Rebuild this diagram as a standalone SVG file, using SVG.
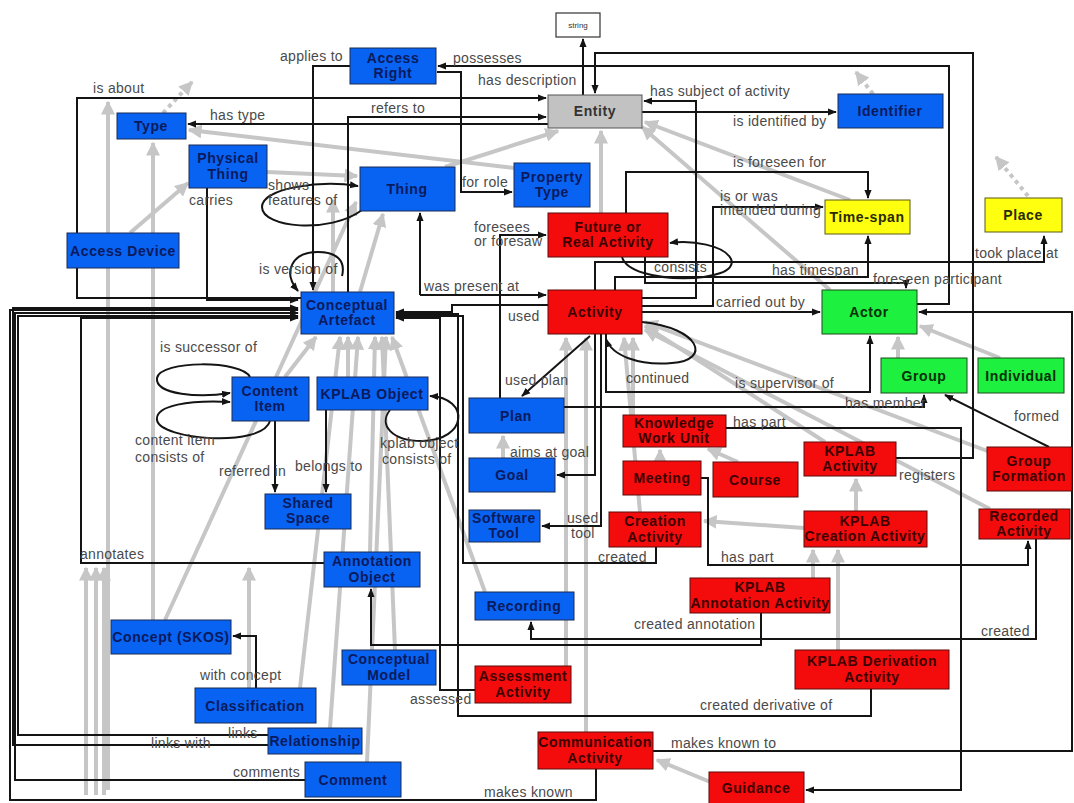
<svg xmlns="http://www.w3.org/2000/svg" width="1074" height="803" viewBox="0 0 1074 803">
<style>
  .bg{fill:#ffffff}
  rect.b{fill:#0862f2;stroke:#1a2a55;stroke-width:1}
  rect.r{fill:#f40c0c;stroke:#5a0a0a;stroke-width:1}
  rect.gr{fill:#1ef040;stroke:#1a4a1a;stroke-width:1}
  rect.y{fill:#ffff10;stroke:#5a5a10;stroke-width:1}
  rect.e{fill:#c2c2c2;stroke:#555;stroke-width:1}
  rect.w{fill:#ffffff;stroke:#333;stroke-width:1.2}
  text{font-family:"Liberation Sans",Arial,sans-serif}
  .nt{font-size:14px;font-weight:bold;text-anchor:middle;letter-spacing:0.6px}
  .tb{fill:#0a1a5c}
  .tr{fill:#3c0000}
  .tg{fill:#063006}
  .ty{fill:#2a2a00}
  .te{fill:#333}
  .lb{font-size:14px;fill:#4a4a4a;letter-spacing:0.3px}
  .k{fill:none;stroke:#141414;stroke-width:2;marker-end:url(#ak)}
  .kn{fill:none;stroke:#141414;stroke-width:2}
  .g{fill:none;stroke:#c6c6c6;stroke-width:4;marker-end:url(#ag)}
  .gd{fill:none;stroke:#c6c6c6;stroke-width:4;stroke-dasharray:4 4;marker-end:url(#ag)}
</style>
<defs>
  <marker id="ak" viewBox="0 0 10 10" refX="9" refY="5" markerWidth="9" markerHeight="9" markerUnits="userSpaceOnUse" orient="auto">
    <path d="M0,1 L10,5 L0,9 z" fill="#141414"/>
  </marker>
  <marker id="ag" viewBox="0 0 10 10" refX="9" refY="5" markerWidth="14" markerHeight="14" markerUnits="userSpaceOnUse" orient="auto">
    <path d="M0,0 L10,5 L0,10 z" fill="#c6c6c6"/>
  </marker>
</defs>
<rect class="bg" x="0" y="0" width="1074" height="803"/>

<!-- subclass links (grey) -->
<g id="subclass-links">
  <path class="gd" d="M163,113 L192,82"/>
  <path class="gd" d="M873,94 L856,72"/>
  <path class="gd" d="M1028,196 L996,157"/>
  <path class="g" d="M108,790 V102"/>
  <path class="g" d="M153,620 V143"/>
  <path class="g" d="M130,233 L188,183"/>
  <path class="g" d="M267,172 L357,176"/>
  <path class="g" d="M514,168 L189,130"/>
  <path class="g" d="M445,167 L558,131"/>
  <path class="g" d="M601,213 V131"/>
  <path class="g" d="M850,200 L645,122"/>
  <path class="g" d="M830,290 L642,127"/>
  <path class="g" d="M165,620 L356,202"/>
  <path class="g" d="M360,292 L383,214"/>
  <path class="g" d="M333,292 V200"/>
  <path class="g" d="M285,377 L316,337"/>
  <path class="g" d="M348,377 V337"/>
  <path class="g" d="M370,552 L375,337"/>
  <path class="g" d="M330,728 L358,337"/>
  <path class="g" d="M300,688 L340,337"/>
  <path class="g" d="M367,762 L386,337"/>
  <path class="g" d="M395,650 L382,337"/>
  <path class="g" d="M485,592 L392,337"/>
  <path class="g" d="M86,795 V568"/>
  <path class="g" d="M96,795 V568"/>
  <path class="g" d="M104,795 V568"/>
  <path class="g" d="M249,705 V568"/>
  <path class="g" d="M503,458 V436"/>
  <path class="g" d="M566,666 V338"/>
  <path class="g" d="M586,732 V338"/>
  <path class="g" d="M633,415 V338"/>
  <path class="g" d="M640,512 L624,338"/>
  <path class="g" d="M660,461 V450"/>
  <path class="g" d="M738,462 L708,449"/>
  <path class="g" d="M825,442 L645,326"/>
  <path class="g" d="M990,452 L645,322"/>
  <path class="g" d="M990,509 L645,330"/>
  <path class="g" d="M720,786 L657,760"/>
  <path class="g" d="M856,511 V479"/>
  <path class="g" d="M813,578 V550"/>
  <path class="g" d="M838,650 V550"/>
  <path class="g" d="M804,528 L704,521"/>
  <path class="g" d="M898,358 V337"/>
  <path class="g" d="M1000,358 L920,326"/>
</g>

<!-- relation links (black) -->
<g id="relation-links">
  <path class="k" d="M350,66 H313 V290"/>
  <path class="k" d="M917,304 H949 V66 H438"/>
  <path class="k" d="M437,72 H461 V192 H512"/>
  <path class="k" d="M896,458 H973 V53 H595 V93"/>
  <path class="k" d="M583,95 V39"/>
  <path class="k" d="M301,298 H77 V98 H546"/>
  <path class="k" d="M207,188 V300 H298"/>
  <path class="k" d="M548,124 H188"/>
  <path class="k" d="M348,292 V117 H546"/>
  <path class="k" d="M642,112 H836"/>
  <path class="k" d="M642,298 H696 V101 H644"/>
  <path class="k" d="M626,213 V172 H868 V198"/>
  <path class="k" d="M642,306 H713 V207 H823"/>
  <path class="k" d="M595,290 V262 H1044 V236"/>
  <path class="k" d="M615,290 V277 H868 V236"/>
  <path class="k" d="M645,257 V283 H906 V288"/>
  <path class="k" d="M642,312 H820"/>
  <path class="k" d="M420,295 V213"/>
  <path class="k" d="M420,295 H546"/>
  <path class="k" d="M548,305 H452 V312 H396"/>
  <path class="k" d="M500,398 V235 H546"/>
  <path class="k" d="M590,336 L522,396"/>
  <path class="k" d="M642,322 C700,328 712,360 672,363 C640,366 612,356 606,339"/>
  <path class="k" d="M622,257 C630,286 742,284 731,259 C724,245 692,240 670,243"/>
  <path class="k" d="M262,207 C262,188 320,180 358,186"/>
  <path class="kn" d="M262,207 C262,228 330,234 362,210"/>
  <path class="k" d="M342,276 C346,260 336,252 318,252 C292,252 282,272 298,291"/>
  <path class="k" d="M250,377 C242,360 160,360 157,378 C155,395 200,398 230,393"/>
  <path class="k" d="M270,421 C262,448 160,440 157,420 C155,405 190,400 230,402"/>
  <path class="k" d="M390,410 C378,425 392,441 422,441 C468,440 470,398 430,396"/>
  <path class="k" d="M275,421 V492"/>
  <path class="k" d="M326,410 V492"/>
  <path class="k" d="M595,334 V475 H557"/>
  <path class="k" d="M601,334 V526 H542"/>
  <path class="k" d="M656,547 V563 H463 V316 H396"/>
  <path class="k" d="M726,428 H961 V790 H806"/>
  <path class="k" d="M701,478 H708 V565 H1028 V541"/>
  <path class="k" d="M1036,539 V639 H531 V622"/>
  <path class="k" d="M761,613 V645 H371 V589"/>
  <path class="k" d="M475,690 H440 V318 H396"/>
  <path class="k" d="M871,689 V716 H458 V314 H396"/>
  <path class="k" d="M653,751 H1072 V312 H919"/>
  <path class="k" d="M596,769 V800 H10 V310 H298"/>
  <path class="k" d="M305,780 H15 V313 H298"/>
  <path class="k" d="M268,735 H18 V316 H298"/>
  <path class="k" d="M268,745 H13 V308 H298"/>
  <path class="k" d="M324,563 H81 V318 H298"/>
  <path class="k" d="M256,688 V636 H233"/>
  <path class="k" d="M1049,447 L945,395"/>
  <path class="k" d="M564,407 H924 V395"/>
  <path class="k" d="M606,334 V392 H870 V336"/>
</g>

<!-- relation labels -->
<g id="relation-labels">
  <text class="lb" x="280" y="61">applies to</text>
  <text class="lb" x="453" y="63">possesses</text>
  <text class="lb" x="478" y="85">has description</text>
  <text class="lb" x="650" y="96">has subject of activity</text>
  <text class="lb" x="93" y="93">is about</text>
  <text class="lb" x="210" y="120">has type</text>
  <text class="lb" x="371" y="113">refers to</text>
  <text class="lb" x="733" y="126">is identified by</text>
  <text class="lb" x="733" y="167">is foreseen for</text>
  <text class="lb" x="720" y="201">is or was</text>
  <text class="lb" x="720" y="215">intended during</text>
  <text class="lb" x="268" y="190">shows</text>
  <text class="lb" x="268" y="205">features of</text>
  <text class="lb" x="189" y="205">carries</text>
  <text class="lb" x="462" y="187">for role</text>
  <text class="lb" x="474" y="232">foresees</text>
  <text class="lb" x="474" y="246">or foresaw</text>
  <text class="lb" x="975" y="258">took place at</text>
  <text class="lb" x="259" y="274">is version of</text>
  <text class="lb" x="654" y="272">consists</text>
  <text class="lb" x="772" y="275">has timespan</text>
  <text class="lb" x="873" y="284">foreseen participant</text>
  <text class="lb" x="424" y="291">was present at</text>
  <text class="lb" x="716" y="307">carried out by</text>
  <text class="lb" x="508" y="321">used</text>
  <text class="lb" x="160" y="352">is successor of</text>
  <text class="lb" x="626" y="383">continued</text>
  <text class="lb" x="505" y="385">used plan</text>
  <text class="lb" x="735" y="388">is supervisor of</text>
  <text class="lb" x="845" y="408">has member</text>
  <text class="lb" x="1014" y="421">formed</text>
  <text class="lb" x="733" y="427">has part</text>
  <text class="lb" x="380" y="448">kplab object</text>
  <text class="lb" x="382" y="464">consists of</text>
  <text class="lb" x="135" y="445">content item</text>
  <text class="lb" x="135" y="462">consists of</text>
  <text class="lb" x="219" y="476">referred in</text>
  <text class="lb" x="295" y="471">belongs to</text>
  <text class="lb" x="510" y="457">aims at goal</text>
  <text class="lb" x="899" y="480">registers</text>
  <text class="lb" x="567" y="523">used</text>
  <text class="lb" x="571" y="538">tool</text>
  <text class="lb" x="598" y="562">created</text>
  <text class="lb" x="721" y="562">has part</text>
  <text class="lb" x="80" y="559">annotates</text>
  <text class="lb" x="634" y="629">created annotation</text>
  <text class="lb" x="981" y="636">created</text>
  <text class="lb" x="200" y="680">with concept</text>
  <text class="lb" x="410" y="704">assessed</text>
  <text class="lb" x="700" y="710">created derivative of</text>
  <text class="lb" x="228" y="738">links</text>
  <text class="lb" x="151" y="748">links with</text>
  <text class="lb" x="671" y="748">makes known to</text>
  <text class="lb" x="233" y="777">comments</text>
  <text class="lb" x="484" y="797">makes known</text>
</g>

<!-- nodes -->
<g id="n-string"><rect class="w" x="556" y="13" width="44" height="24"/><text x="578" y="28" font-size="8" text-anchor="middle" fill="#333">string</text></g>
<g id="n-access-right"><rect class="b" x="350" y="48" width="86" height="36"/><text class="nt tb" x="393" y="63">Access</text><text class="nt tb" x="393" y="78">Right</text></g>
<g id="n-entity"><rect class="e" x="548" y="95" width="94" height="33"/><text class="nt te" x="595" y="116">Entity</text></g>
<g id="n-identifier"><rect class="b" x="838" y="94" width="105" height="34"/><text class="nt tb" x="890" y="116">Identifier</text></g>
<g id="n-type"><rect class="b" x="117" y="113" width="69" height="26"/><text class="nt tb" x="151" y="131">Type</text></g>
<g id="n-physical-thing"><rect class="b" x="189" y="145" width="78" height="43"/><text class="nt tb" x="228" y="163">Physical</text><text class="nt tb" x="228" y="179">Thing</text></g>
<g id="n-thing"><rect class="b" x="360" y="167" width="95" height="44"/><text class="nt tb" x="407" y="194">Thing</text></g>
<g id="n-property-type"><rect class="b" x="514" y="163" width="76" height="44"/><text class="nt tb" x="552" y="182">Property</text><text class="nt tb" x="552" y="197">Type</text></g>
<g id="n-future-activity"><rect class="r" x="548" y="213" width="120" height="44"/><text class="nt tr" x="608" y="232">Future or</text><text class="nt tr" x="608" y="247">Real Activity</text></g>
<g id="n-time-span"><rect class="y" x="825" y="200" width="85" height="34"/><text class="nt ty" x="867" y="222">Time-span</text></g>
<g id="n-place"><rect class="y" x="985" y="198" width="77" height="34"/><text class="nt ty" x="1023" y="220">Place</text></g>
<g id="n-access-device"><rect class="b" x="67" y="233" width="112" height="35"/><text class="nt tb" x="123" y="256">Access Device</text></g>
<g id="n-conceptual-artefact"><rect class="b" x="301" y="292" width="93" height="42"/><text class="nt tb" x="347" y="310">Conceptual</text><text class="nt tb" x="347" y="325">Artefact</text></g>
<g id="n-activity"><rect class="r" x="548" y="290" width="94" height="44"/><text class="nt tr" x="595" y="317">Activity</text></g>
<g id="n-actor"><rect class="gr" x="822" y="290" width="95" height="44"/><text class="nt tg" x="869" y="317">Actor</text></g>
<g id="n-group"><rect class="gr" x="881" y="358" width="86" height="35"/><text class="nt tg" x="924" y="381">Group</text></g>
<g id="n-individual"><rect class="gr" x="978" y="358" width="86" height="35"/><text class="nt tg" x="1021" y="381">Individual</text></g>
<g id="n-content-item"><rect class="b" x="232" y="377" width="77" height="44"/><text class="nt tb" x="270" y="396">Content</text><text class="nt tb" x="270" y="411">Item</text></g>
<g id="n-kplab-object"><rect class="b" x="317" y="377" width="111" height="33"/><text class="nt tb" x="372" y="399">KPLAB Object</text></g>
<g id="n-plan"><rect class="b" x="469" y="398" width="95" height="35"/><text class="nt tb" x="516" y="421">Plan</text></g>
<g id="n-knowledge-work-unit"><rect class="r" x="623" y="415" width="103" height="32"/><text class="nt tr" x="674" y="428">Knowledge</text><text class="nt tr" x="674" y="443">Work Unit</text></g>
<g id="n-kplab-activity"><rect class="r" x="804" y="442" width="92" height="34"/><text class="nt tr" x="850" y="456">KPLAB</text><text class="nt tr" x="850" y="471">Activity</text></g>
<g id="n-group-formation"><rect class="r" x="987" y="447" width="85" height="44"/><text class="nt tr" x="1029" y="466">Group</text><text class="nt tr" x="1029" y="481">Formation</text></g>
<g id="n-goal"><rect class="b" x="469" y="458" width="86" height="34"/><text class="nt tb" x="512" y="480">Goal</text></g>
<g id="n-meeting"><rect class="r" x="623" y="461" width="78" height="34"/><text class="nt tr" x="662" y="483">Meeting</text></g>
<g id="n-course"><rect class="r" x="713" y="462" width="85" height="35"/><text class="nt tr" x="755" y="485">Course</text></g>
<g id="n-shared-space"><rect class="b" x="265" y="494" width="86" height="35"/><text class="nt tb" x="308" y="508">Shared</text><text class="nt tb" x="308" y="523">Space</text></g>
<g id="n-software-tool"><rect class="b" x="469" y="510" width="71" height="32"/><text class="nt tb" x="504" y="523">Software</text><text class="nt tb" x="504" y="538">Tool</text></g>
<g id="n-creation-activity"><rect class="r" x="609" y="512" width="92" height="35"/><text class="nt tr" x="655" y="526">Creation</text><text class="nt tr" x="655" y="542">Activity</text></g>
<g id="n-kplab-creation-activity"><rect class="r" x="804" y="511" width="123" height="36"/><text class="nt tr" x="865" y="526">KPLAB</text><text class="nt tr" x="865" y="541">Creation Activity</text></g>
<g id="n-recorded-activity"><rect class="r" x="979" y="509" width="91" height="30"/><text class="nt tr" x="1024" y="521">Recorded</text><text class="nt tr" x="1024" y="536">Activity</text></g>
<g id="n-annotation-object"><rect class="b" x="324" y="552" width="96" height="35"/><text class="nt tb" x="372" y="566">Annotation</text><text class="nt tb" x="372" y="582">Object</text></g>
<g id="n-kplab-annotation-activity"><rect class="r" x="690" y="578" width="140" height="35"/><text class="nt tr" x="760" y="592">KPLAB</text><text class="nt tr" x="760" y="608">Annotation Activity</text></g>
<g id="n-recording"><rect class="b" x="475" y="592" width="99" height="28"/><text class="nt tb" x="524" y="611">Recording</text></g>
<g id="n-concept-skos"><rect class="b" x="111" y="620" width="120" height="34"/><text class="nt tb" x="171" y="642">Concept (SKOS)</text></g>
<g id="n-conceptual-model"><rect class="b" x="342" y="650" width="94" height="35"/><text class="nt tb" x="389" y="664">Conceptual</text><text class="nt tb" x="389" y="680">Model</text></g>
<g id="n-kplab-derivation-activity"><rect class="r" x="795" y="650" width="154" height="39"/><text class="nt tr" x="872" y="666">KPLAB Derivation</text><text class="nt tr" x="872" y="682">Activity</text></g>
<g id="n-assessment-activity"><rect class="r" x="475" y="666" width="96" height="37"/><text class="nt tr" x="523" y="681">Assessment</text><text class="nt tr" x="523" y="697">Activity</text></g>
<g id="n-classification"><rect class="b" x="195" y="688" width="121" height="35"/><text class="nt tb" x="255" y="711">Classification</text></g>
<g id="n-relationship"><rect class="b" x="268" y="728" width="94" height="26"/><text class="nt tb" x="315" y="746">Relationship</text></g>
<g id="n-communication-activity"><rect class="r" x="538" y="732" width="115" height="37"/><text class="nt tr" x="595" y="747">Communication</text><text class="nt tr" x="595" y="763">Activity</text></g>
<g id="n-comment"><rect class="b" x="305" y="762" width="96" height="35"/><text class="nt tb" x="353" y="785">Comment</text></g>
<g id="n-guidance"><rect class="r" x="709" y="772" width="95" height="32"/><text class="nt tr" x="756" y="793">Guidance</text></g>
</svg>
